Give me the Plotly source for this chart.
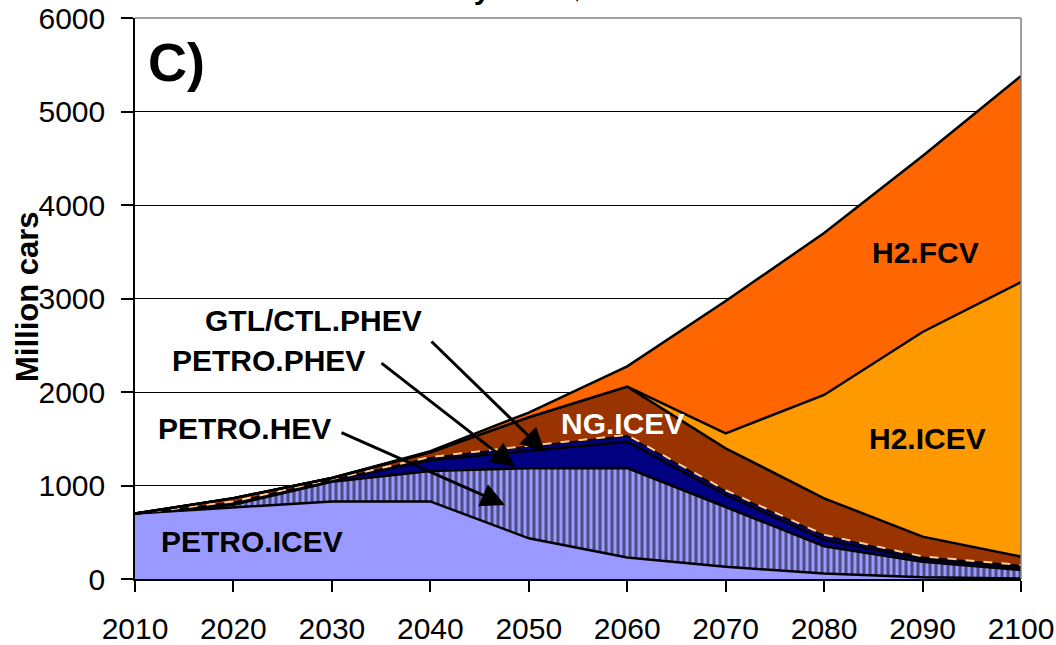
import plotly.graph_objects as go

years = [2010, 2020, 2030, 2040, 2050, 2060, 2070, 2080, 2090, 2100]
petro_icev = [700, 765, 830, 830, 435, 230, 130, 60, 20, 5]
petro_hev = [0, 30, 210, 325, 750, 957, 640, 290, 165, 91]
petro_phev = [0, 20, 15, 115, 187, 281, 130, 70, 30, 29]
gtl_ctl_phev = [0, 12, 10, 30, 48, 67, 45, 50, 24, 25]
gtl_ctl_other = [0, 3, 3, 5, 6, 6, 4, 3, 2, 1]
ng_icev = [0, 35, 12, 50, 304, 516, 449, 390, 212, 88]
h2_icev = [0, 0, 0, 0, 0, 0, 160, 1105, 2189, 2937]
h2_fcv = [0, 0, 0, 13, 50, 218, 1415, 1732, 1882, 2204]

y_ticks = [0, 1000, 2000, 3000, 4000, 5000, 6000]

FONT = "Arial, Liberation Sans, sans-serif"

series = [
    ("PETRO.ICEV", petro_icev, "#9999FF", None),
    ("PETRO.HEV", petro_hev, "#9999FF", dict(shape="|", fgcolor="black", bgcolor="#9999FF", size=6, solidity=0.5, fillmode="overlay")),
    ("PETRO.PHEV", petro_phev, "#000080", None),
    ("GTL/CTL.PHEV", gtl_ctl_phev, "#000080", None),
    ("GTL/CTL.OTHER", gtl_ctl_other, "#FFCC99", None),
    ("NG.ICEV", ng_icev, "#993300", None),
    ("H2.ICEV", h2_icev, "#FF9900", None),
    ("H2.FCV", h2_fcv, "#FF6600", None),
]

fig = go.Figure()
for name, vals, col, pat in series:
    kw = dict(x=years, y=vals, name=name, mode="lines", stackgroup="one",
              fillcolor=col, line=dict(color="black", width=2.5), hoverinfo="x+y+name")
    if pat is not None:
        kw["fillpattern"] = pat
    if name == "GTL/CTL.OTHER":
        kw["line"] = dict(color="#FFCC99", width=2, dash="dash")
    fig.add_trace(go.Scatter(**kw))

L, R, T, B = 135, 35, 18, 66
W, H = 1056, 645
pw, ph = W - L - R, H - T - B


def px(xpix):
    return 2010 + (xpix - L) / pw * 90


def py(ypix):
    return (H - B - ypix) / ph * 6000


def ppx(xpix):
    return (xpix - L) / pw


def ppy(ypix):
    return (H - B - ypix) / ph


anns = []
labels = [
    ("H2.FCV", 925, 252, "black"),
    ("H2.ICEV", 927, 438, "black"),
    ("NG.ICEV", 622, 423, "white"),
    ("PETRO.ICEV", 252, 541, "black"),
    ("PETRO.HEV", 244, 428, "black"),
    ("PETRO.PHEV", 268, 360, "black"),
    ("GTL/CTL.PHEV", 313, 320, "black"),
]
for txt, x, y, c in labels:
    anns.append(dict(text="<b>%s</b>" % txt, x=ppx(x), y=ppy(y), xref="paper", yref="paper",
                     showarrow=False, font=dict(family=FONT, size=30, color=c),
                     xanchor="center", yanchor="middle"))

anns.append(dict(text="<b>C)</b>", x=ppx(146), y=ppy(62), xref="paper", yref="paper",
                 showarrow=False, font=dict(family=FONT, size=54, color="black"),
                 xanchor="left", yanchor="middle"))

anns.append(dict(text="<b>Battery cost $300.</b>", x=ppx(515), y=ppy(7), xref="paper", yref="paper",
                 showarrow=False, font=dict(family=FONT, size=30, color="black"),
                 xanchor="center", yanchor="bottom"))

anns.append(dict(text="<b>Million cars</b>", x=ppx(27), y=ppy(297), xref="paper", yref="paper",
                 showarrow=False, textangle=-90, font=dict(family=FONT, size=31, color="black"),
                 xanchor="center", yanchor="middle"))

arrows = [
    (545, 452, 430, 340),
    (515, 467, 380, 362),
    (505, 505, 340, 432),
]
for hx, hy, tx, ty in arrows:
    anns.append(dict(text="", x=px(hx), y=py(hy), ax=px(tx), ay=py(ty), xref="x", yref="y",
                     axref="x", ayref="y", showarrow=True, arrowhead=2, arrowsize=1.6,
                     arrowwidth=3, arrowcolor="black", standoff=0, startstandoff=0))

fig.update_layout(
    width=W, height=H,
    margin=dict(l=L, r=R, t=T, b=B, pad=0, autoexpand=False),
    paper_bgcolor="white", plot_bgcolor="white",
    showlegend=False,
    annotations=anns,
    font=dict(family=FONT, size=28, color="black"),
    shapes=[
        dict(type="line", xref="paper", yref="paper", x0=0, x1=1, y0=1, y1=1,
             line=dict(color="#808080", width=1.5)),
        dict(type="line", xref="paper", yref="paper", x0=1, x1=1, y0=0, y1=1,
             line=dict(color="#808080", width=1.5)),
    ],
)
fig.update_xaxes(range=[2010, 2100], tickvals=years, ticks="outside", ticklen=11,
                 tickcolor="black", tickwidth=1.5, showline=True, linecolor="black", linewidth=1.5,
                 showgrid=False, zeroline=False, tickfont=dict(family=FONT, size=30, color="black"),
                 ticklabelstandoff=11, automargin=False)
fig.update_yaxes(range=[0, 6000], tickvals=y_ticks, ticks="outside", ticklen=12,
                 tickcolor="black", tickwidth=1.5, showline=True, linecolor="black", linewidth=1.5,
                 showgrid=True, gridcolor="black", gridwidth=1, zeroline=False,
                 tickfont=dict(family=FONT, size=30, color="black"), ticklabelstandoff=10,
                 automargin=False)

fig.write_html("out.html", config={"displayModeBar": False},
               post_script="document.body.style.margin='0';document.body.style.padding='0';document.body.style.overflow='hidden';")
